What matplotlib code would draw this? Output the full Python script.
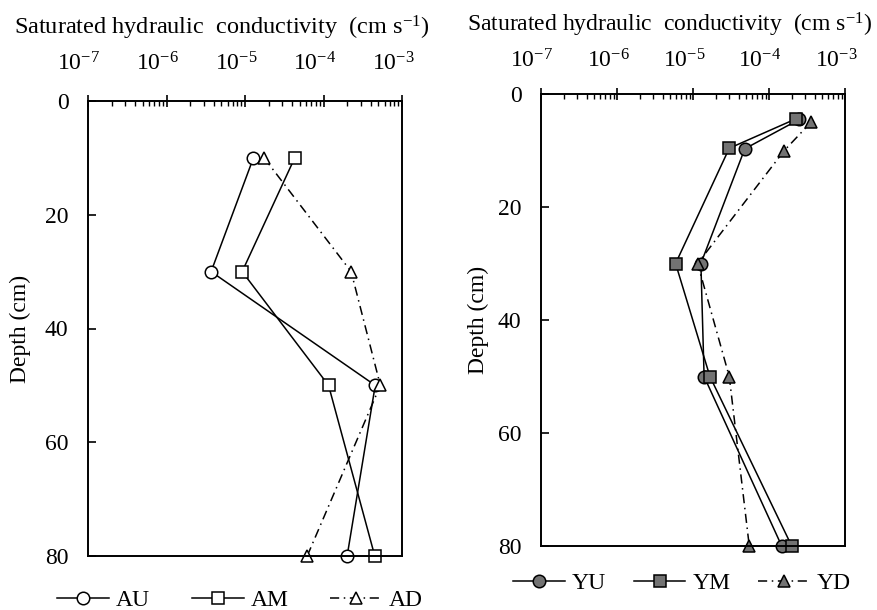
import matplotlib
matplotlib.use("Agg")
import matplotlib.pyplot as plt
from matplotlib.ticker import LogLocator, FixedLocator, FixedFormatter, NullFormatter
from matplotlib.transforms import ScaledTranslation

plt.rcParams["font.family"] = ["Liberation Serif", "DejaVu Serif"]
plt.rcParams["mathtext.fontset"] = "custom"
plt.rcParams["mathtext.rm"] = "Liberation Serif"
plt.rcParams["mathtext.it"] = "Liberation Serif:italic"

# Profile A: depth (cm) and saturated hydraulic conductivity (cm s-1)
depth_a = [10, 30, 50, 80]
ks_au = [1.28e-5, 3.7e-6, 4.56e-4, 2.0e-4]
ks_am = [4.3e-5, 9.2e-6, 1.16e-4, 4.5e-4]
ks_ad = [1.75e-5, 2.25e-4, 5.3e-4, 6.2e-5]

# Profile Y
depth_yu = [4.5, 9.7, 30, 50, 80]
depth_ym = [4.4, 9.6, 30, 50, 80]
depth_yd = [5, 10, 30, 50, 80]
ks_yu = [2.5e-4, 4.8e-5, 1.27e-5, 1.4e-5, 1.47e-4]
ks_ym = [2.26e-4, 3.0e-5, 5.9e-6, 1.67e-5, 1.99e-4]
ks_yd = [3.57e-4, 1.59e-4, 1.15e-5, 3.0e-5, 5.5e-5]

xtick_vals = [1e-7, 1e-6, 1e-5, 1e-4, 1e-3]
xtick_text = [r"$10^{-7}$", r"$10^{-6}$", r"$10^{-5}$", r"$10^{-4}$", r"$10^{-3}$"]
ytick_vals = [0, 20, 40, 60, 80]
title_text = "Saturated hydraulic  conductivity  (cm s$^{-1}$)"

GRAY = "#737373"
DASHDOT = (0, (6, 3, 1, 3))
FS = 17

fig = plt.figure(figsize=(8.77, 6.10), dpi=100)
ax_a = fig.add_axes([88 / 877, 54 / 610, 314 / 877, 455 / 610])
ax_y = fig.add_axes([541 / 877, 64 / 610, 304 / 877, 452 / 610])


def style_axis(ax, xpad, label_x):
    ax.set_xscale("log")
    ax.set_xlim(1e-7, 1e-3)
    ax.set_ylim(80, 0)
    ax.xaxis.set_ticks_position("top")
    ax.xaxis.set_major_locator(FixedLocator(xtick_vals))
    ax.xaxis.set_major_formatter(FixedFormatter(xtick_text))
    ax.xaxis.set_minor_locator(LogLocator(base=10, subs=range(2, 10), numticks=20))
    ax.xaxis.set_minor_formatter(NullFormatter())
    ax.tick_params(axis="x", which="major", direction="inout", length=8.5,
                   width=1.2, labelsize=FS, pad=xpad)
    ax.tick_params(axis="x", which="minor", direction="in", length=3.5, width=1.0)
    ax.yaxis.set_major_locator(FixedLocator(ytick_vals))
    ax.tick_params(axis="y", which="major", direction="in", length=6, width=1.2,
                   labelsize=FS, pad=14)
    ax.tick_params(axis="y", which="minor", left=False)
    for sp in ax.spines.values():
        sp.set_linewidth(1.4)
    ax.set_ylabel("Depth (cm)", fontsize=FS)
    ax.yaxis.set_label_coords(label_x, 0.5)
    shift = ScaledTranslation(-9 / 100, 0, fig.dpi_scale_trans)
    for lab in ax.get_xticklabels():
        lab.set_transform(lab.get_transform() + shift)


style_axis(ax_a, 14, -0.18)
style_axis(ax_y, 11, -0.171)

common = dict(color="black", linewidth=1.1, markersize=9, markeredgewidth=1.1,
              markeredgecolor="black")

ax_a.plot(ks_au, depth_a, marker="o", markerfacecolor="white", linestyle="-",
          label="AU", **common)
ax_a.plot(ks_am, depth_a, marker="s", markerfacecolor="white", linestyle="-",
          label="AM", **common)
ax_a.plot(ks_ad, depth_a, marker="^", markerfacecolor="white", linestyle=DASHDOT,
          label="AD", **common)

ax_y.plot(ks_yu, depth_yu, marker="o", markerfacecolor=GRAY, linestyle="-",
          label="YU", **common)
ax_y.plot(ks_ym, depth_ym, marker="s", markerfacecolor=GRAY, linestyle="-",
          label="YM", **common)
ax_y.plot(ks_yd, depth_yd, marker="^", markerfacecolor=GRAY, linestyle=DASHDOT,
          label="YD", **common)

for a in (ax_a, ax_y):
    for ln in a.get_lines():
        ln.set_clip_on(False)

leg_kw = dict(ncol=3, frameon=False, fontsize=FS, handlelength=2.2,
              handletextpad=0.3, numpoints=1, loc="center",
              bbox_transform=fig.transFigure, borderpad=0.2)
ax_a.legend(bbox_to_anchor=(240 / 877, 1 - 600 / 610), columnspacing=1.75, **leg_kw)
ax_y.legend(bbox_to_anchor=(682 / 877, 1 - 583 / 610), columnspacing=1.15, **leg_kw)

fig.text(222 / 877, 1 - 28 / 610, title_text, ha="center", va="center", fontsize=17.5)
fig.text(670 / 877, 1 - 25 / 610, title_text, ha="center", va="center", fontsize=17)

fig.savefig("out.png", dpi=100)
